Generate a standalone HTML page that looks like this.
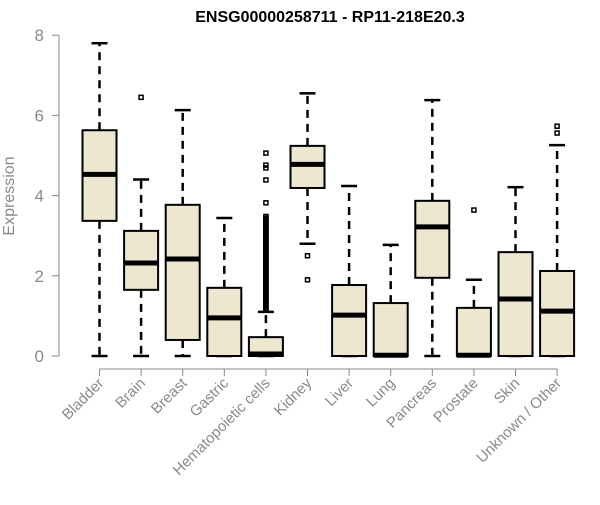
<!DOCTYPE html>
<html><head><meta charset="utf-8"><style>
body{margin:0;background:#fff}
svg{font-family:"Liberation Sans",Arial,sans-serif}
</style></head><body>
<svg id="c" width="600" height="500">
<text x="330" y="22" text-anchor="middle" font-weight="bold" font-size="16">ENSG00000258711 - RP11-218E20.3</text>
<text transform="translate(14,196) rotate(-90)" text-anchor="middle" font-size="16" fill="#8a8a8a">Expression</text>
<g id="g"></g>
</svg>
<script>
const categories=["Bladder","Brain","Breast","Gastric","Hematopoietic cells","Kidney","Liver","Lung","Pancreas","Prostate","Skin","Unknown / Other"];
const lowW=[0,0,0,0,0,2.8,0,0,0,0,0,0];
const q1=[3.37,1.65,0.4,0,0,4.19,0,0,1.95,0,0,0];
const med=[4.53,2.32,2.42,0.95,0.05,4.78,1.02,0.02,3.22,0.02,1.42,1.12];
const q3=[5.63,3.12,3.77,1.7,0.47,5.24,1.77,1.32,3.87,1.2,2.59,2.12];
const highW=[7.8,4.4,6.13,3.44,1.1,6.55,4.24,2.77,6.38,1.9,4.21,5.26];
const outliers=[[],[6.45],[],[],[5.06,4.76,4.69,4.39,3.82,3.48,3.44,3.41,3.38,3.34,3.3,3.26,3.22,3.18,3.15,3.11,3.08,3.04,3.0,2.96,2.92,2.88,2.85,2.81,2.78,2.74,2.7,2.66,2.62,2.58,2.55,2.51,2.48,2.44,2.4,2.36,2.32,2.28,2.25,2.21,2.18,2.14,2.1,2.06,2.02,1.98,1.95,1.91,1.88,1.84,1.8,1.76,1.72,1.68,1.65,1.61,1.58,1.54,1.5,1.46,1.42,1.38,1.35,1.31,1.28,1.24,1.2,1.17,1.15],[2.5,1.9],[],[],[],[3.64],[],[5.73,5.56]];
const yTicks=[0,2,4,6,8];
const NS="http://www.w3.org/2000/svg",g=document.getElementById('g');
const y=v=>356-v*40.1, x=i=>99.5+i*41.6;
function mk(t,a,p){const e=document.createElementNS(NS,t);for(const k in a)e.setAttribute(k,a[k]);(p||g).appendChild(e);return e;}
const ya=mk('line',{x1:59,x2:59,y1:y(0),y2:y(8),stroke:'#888'});


yTicks.forEach(t=>{
 const l=mk('line',{x1:52,x2:59,y1:y(t),y2:y(t),stroke:'#888'});
 
 
 const tx=mk('text',{x:44,y:y(t)+6,'text-anchor':'end','font-size':17,fill:'#8a8a8a'});tx.textContent=t;
 
 
});
const xa=mk('line',{x1:x(0),x2:x(11),y1:369,y2:369,stroke:'#888'});


categories.forEach((c,i)=>{
 const cx=x(i),w=17,hw=8;
 const t=mk('line',{x1:cx,x2:cx,y1:369,y2:376,stroke:'#888'});
 
 
 const lb=mk('text',{transform:`translate(${cx+5},384) rotate(-45)`,'text-anchor':'end','font-size':15,fill:'#8a8a8a'});lb.textContent=c;
 
 
 const bg=mk('g',{});
 
 
 mk('line',{x1:cx,x2:cx,y1:y(q3[i]),y2:y(highW[i]),stroke:'#000','stroke-width':2.5,'stroke-dasharray':'8,6'},bg);
 mk('line',{x1:cx,x2:cx,y1:y(q1[i]),y2:y(lowW[i]),stroke:'#000','stroke-width':2.5,'stroke-dasharray':'8,6'},bg);
 mk('line',{x1:cx-hw,x2:cx+hw,y1:y(highW[i]),y2:y(highW[i]),stroke:'#000','stroke-width':2.5},bg);
 mk('line',{x1:cx-hw,x2:cx+hw,y1:y(lowW[i]),y2:y(lowW[i]),stroke:'#000','stroke-width':2.5},bg);
 mk('rect',{x:cx-w,y:y(q3[i]),width:2*w,height:Math.max(y(q1[i])-y(q3[i]),0.1),fill:'#EDE7CF',stroke:'#000','stroke-width':2},bg);
 mk('line',{x1:cx-w,x2:cx+w,y1:y(med[i]),y2:y(med[i]),stroke:'#000','stroke-width':5},bg);
 outliers[i].forEach(o=>{
  const r=mk('rect',{x:cx-2,y:y(o)-2,width:4,height:4,fill:'none',stroke:'#000','stroke-width':1.5},bg);
  
  
 });
});
</script>
</body></html>
